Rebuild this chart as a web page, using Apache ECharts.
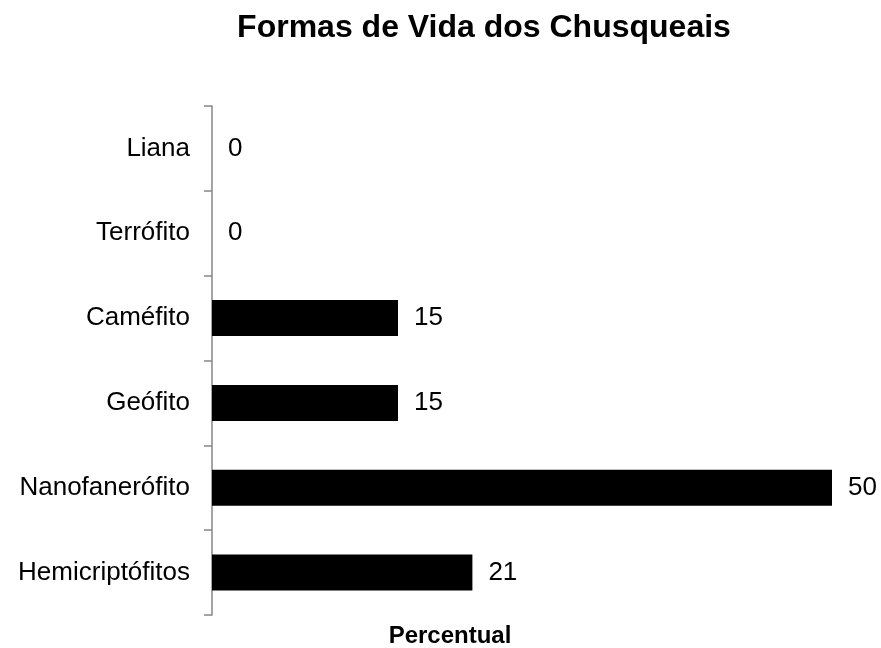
<!DOCTYPE html>
<html>
<head>
<meta charset="utf-8">
<script src="https://cdn.jsdelivr.net/npm/echarts@6/dist/echarts.min.js"></script>
<style>
  html, body { margin: 0; padding: 0; background: #fff; }
  #chart { width: 881px; height: 648px; }
</style>
</head>
<body>
<div id="chart"></div>
<script>
// categorias de baixo para cima
const categorias = ['Hemicriptófitos', 'Nanofanerófito', 'Geófito', 'Caméfito', 'Terrófito', 'Liana']
const valores = [21, 50, 15, 15, 0, 0]
const titulo = 'Formas de Vida dos Chusqueais'
const eixoNome = 'Percentual'

const fonte = '"Liberation Sans", Arial, sans-serif'

const myChart = echarts.init(document.getElementById('chart'))
const option = {
  backgroundColor: '#fff',
  animation: false,
  grid: {
    left: 212,
    right: 49,
    top: 106,
    bottom: 33
  },
  xAxis: {
    type: 'value',
    min: 0,
    max: 50,
    show: false
  },
  yAxis: {
    type: 'category',
    data: categorias,
    axisLine: {
      lineStyle: { color: '#868686', width: 1.5 }
    },
    axisTick: {
      show: true,
      alignWithLabel: false,
      length: 8,
      lineStyle: { color: '#868686', width: 1.5 }
    },
    axisLabel: {
      margin: 22,
      color: '#000',
      fontSize: 26,
      fontFamily: fonte,
      padding: [4, 0, 0, 0]
    }
  },
  series: [
    {
      type: 'bar',
      data: valores,
      barWidth: 36,
      itemStyle: { color: '#000' },
      label: {
        show: true,
        position: 'right',
        distance: 16,
        color: '#000',
        fontSize: 26,
        fontFamily: fonte,
        padding: [4, 0, 0, 0]
      }
    }
  ],
  graphic: [
    {
      type: 'text',
      x: 484,
      y: 28,
      style: {
        text: titulo,
        fill: '#000',
        font: 'bold 32px ' + fonte,
        textAlign: 'center',
        textVerticalAlign: 'middle'
      }
    },
    {
      type: 'text',
      x: 450,
      y: 636,
      style: {
        text: eixoNome,
        fill: '#000',
        font: 'bold 24px ' + fonte,
        textAlign: 'center',
        textVerticalAlign: 'middle'
      }
    }
  ]
}
myChart.setOption(option)
window.addEventListener('resize', () => myChart.resize(), false)
</script>
</body>
</html>
